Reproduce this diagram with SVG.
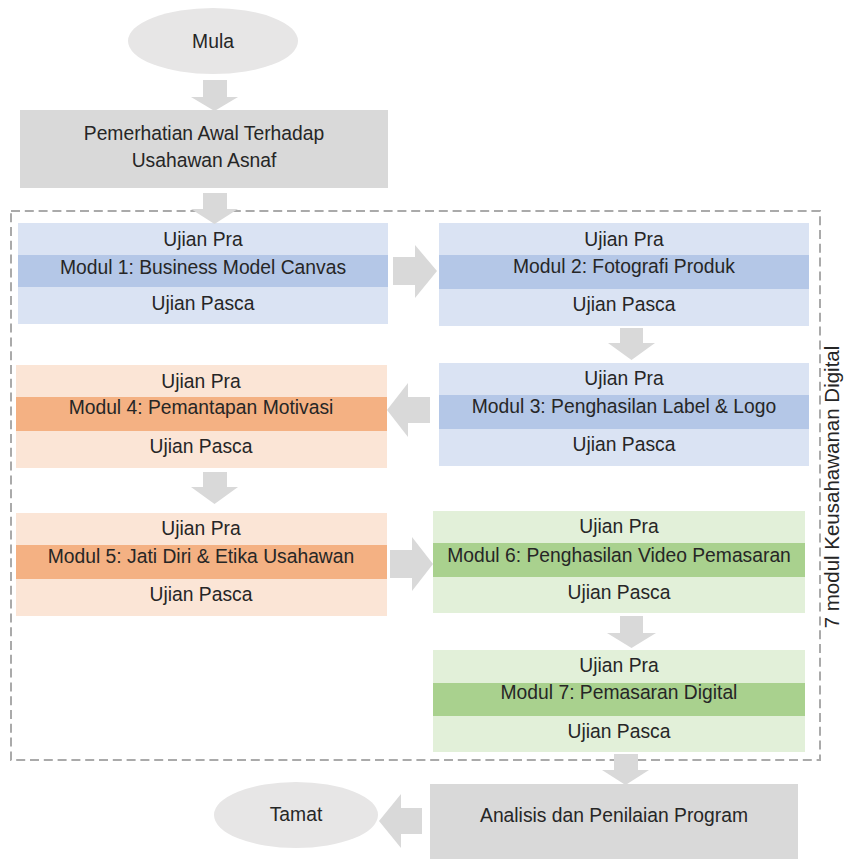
<svg xmlns="http://www.w3.org/2000/svg" width="844" height="859" viewBox="0 0 844 859">
<style>
text{font-family:"Liberation Sans",Arial,sans-serif;font-size:19.3px;fill:#262626;text-anchor:middle}
.term{fill:#e7e6e6}
.proc{fill:#d9d9d9}
.arrow{fill:#d9d9d9}
.bL{fill:#dae3f3}.bD{fill:#b4c7e7}
.oL{fill:#fbe5d6}.oD{fill:#f4b183}
.gL{fill:#e2f0d9}.gD{fill:#a9d18e}
.frame{fill:none;stroke:#aaaaaa;stroke-width:2;stroke-dasharray:9 4.8}
</style>
<rect width="844" height="859" fill="#ffffff"/>
<g id="container">
<rect class="frame" x="11" y="211" width="809" height="549"/>
<text x="839" y="487" transform="rotate(-90 839 487)" style="font-size:20.5px">7 modul Keusahawanan Digital</text>
</g>
<g id="mula">
<ellipse class="term" cx="213" cy="41" rx="85" ry="33"/>
<text x="213" y="48">Mula</text>
</g>
<g id="pemerhatian">
<rect class="proc" x="20" y="110" width="368" height="78"/>
<text x="204" y="140">Pemerhatian Awal Terhadap</text>
<text x="204" y="167">Usahawan Asnaf</text>
</g>
<g id="modul1">
<rect class="bL" x="18" y="223" width="370" height="101"/>
<rect class="bD" x="18" y="255" width="370" height="32"/>
<text x="203" y="246">Ujian Pra</text>
<text x="203" y="274">Modul 1: Business Model Canvas</text>
<text x="203" y="310">Ujian Pasca</text>
</g>
<g id="modul2">
<rect class="bL" x="439" y="223" width="370" height="103"/>
<rect class="bD" x="439" y="255" width="370" height="34"/>
<text x="624" y="246">Ujian Pra</text>
<text x="624" y="273">Modul 2: Fotografi Produk</text>
<text x="624" y="311">Ujian Pasca</text>
</g>
<g id="modul3">
<rect class="bL" x="439" y="363" width="370" height="103"/>
<rect class="bD" x="439" y="395" width="370" height="34"/>
<text x="624" y="385">Ujian Pra</text>
<text x="624" y="413">Modul 3: Penghasilan Label &amp; Logo</text>
<text x="624" y="451">Ujian Pasca</text>
</g>
<g id="modul4">
<rect class="oL" x="16" y="365" width="371" height="103"/>
<rect class="oD" x="16" y="397" width="371" height="34"/>
<text x="201" y="388">Ujian Pra</text>
<text x="201" y="414">Modul 4: Pemantapan Motivasi</text>
<text x="201" y="453">Ujian Pasca</text>
</g>
<g id="modul5">
<rect class="oL" x="16" y="513" width="371" height="103"/>
<rect class="oD" x="16" y="545" width="371" height="34"/>
<text x="201" y="535">Ujian Pra</text>
<text x="201" y="563">Modul 5: Jati Diri &amp; Etika Usahawan</text>
<text x="201" y="601">Ujian Pasca</text>
</g>
<g id="modul6">
<rect class="gL" x="433" y="511" width="372" height="102"/>
<rect class="gD" x="433" y="543" width="372" height="34"/>
<text x="619" y="533">Ujian Pra</text>
<text x="619" y="562">Modul 6: Penghasilan Video Pemasaran</text>
<text x="619" y="599">Ujian Pasca</text>
</g>
<g id="modul7">
<rect class="gL" x="433" y="650" width="372" height="102"/>
<rect class="gD" x="433" y="683" width="372" height="33"/>
<text x="619" y="672">Ujian Pra</text>
<text x="619" y="699">Modul 7: Pemasaran Digital</text>
<text x="619" y="738">Ujian Pasca</text>
</g>
<g id="analisis">
<rect class="proc" x="430" y="784" width="368" height="80"/>
<text x="614" y="822">Analisis dan Penilaian Program</text>
</g>
<g id="tamat">
<ellipse class="term" cx="296" cy="815" rx="82" ry="33"/>
<text x="296" y="821">Tamat</text>
</g>
<g id="connectors">
<polygon class="arrow" points="203,80 227,80 227,97 238,97 214.5,111 191,97 203,97"/>
<polygon class="arrow" points="203,193 227,193 227,209 238,209 214.5,224 191,209 203,209"/>
<polygon class="arrow" points="393,257 415,257 415,245 437,271 415,298 415,285 393,285"/>
<polygon class="arrow" points="620,328 643,328 643,343 655,343 631.5,360 608,343 620,343"/>
<polygon class="arrow" points="430,397 408,397 408,383 387,410 408,437 408,423 430,423"/>
<polygon class="arrow" points="203,472 227,472 227,487 238,487 214.5,504 191,487 203,487"/>
<polygon class="arrow" points="390,550 412,550 412,537 433,564 412,591 412,578 390,578"/>
<polygon class="arrow" points="620,616 643,616 643,633 656,633 631.5,648 607,633 620,633"/>
<polygon class="arrow" points="614,754 638,754 638,770 649,770 625.5,785 602,770 614,770"/>
<polygon class="arrow" points="422,808 401,808 401,794 379,821 401,848 401,834 422,834"/>
</g>
</svg>
